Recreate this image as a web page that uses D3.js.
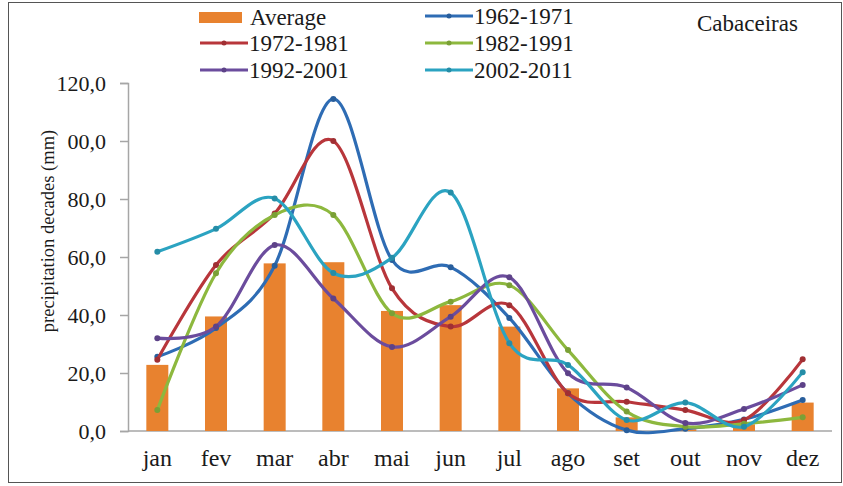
<!DOCTYPE html>
<html>
<head>
<meta charset="utf-8">
<script src="https://cdn.jsdelivr.net/npm/d3@7"></script>
<style>
  html, body { margin: 0; padding: 0; background: #fff; }
  svg { display: block; }
  text { font-family: "Liberation Serif", "Times New Roman", serif; fill: #1a1a1a; }
</style>
</head>
<body>
<svg id="chart" width="843" height="486"></svg>
<script>
// Monthly precipitation by decade, Cabaceiras
const months = ["jan", "fev", "mar", "abr", "mai", "jun", "jul", "ago", "set", "out", "nov", "dez"];
const average = [22.8, 39.5, 57.8, 58.2, 41.4, 43.4, 36.0, 14.7, 4.7, 0.6, 2.3, 9.8];
const d1962 = [25.6, 35.5, 57.0, 114.5, 59.0, 56.5, 39.0, 13.0, 0.3, 0.8, 4.0, 10.7];
const d1972 = [24.6, 57.2, 75.0, 100.0, 49.2, 36.0, 43.4, 13.0, 10.1, 7.2, 3.8, 24.7];
const d1982 = [7.2, 54.4, 74.5, 74.5, 40.6, 44.6, 50.3, 27.9, 6.7, 1.5, 2.5, 4.7];
const d1992 = [32.0, 36.0, 64.1, 45.7, 29.0, 39.4, 53.0, 19.9, 15.0, 2.8, 7.6, 15.9];
const d2002 = [61.8, 69.7, 80.2, 54.5, 59.7, 82.2, 30.3, 22.8, 3.8, 9.8, 1.5, 20.3];
const yTicks = [0, 20, 40, 60, 80, 100, 120];
const seriesNames = ["1962-1971", "1972-1981", "1982-1991", "1992-2001", "2002-2011"];
const seriesValues = [d1962, d1972, d1982, d1992, d2002];
const seriesColors = ["#2e6cb4", "#b8363b", "#8db83e", "#6b4c9d", "#2ba3c1"];
const barColor = "#e8822f";

const svg = d3.select("#chart");

// outer frame
svg.append("rect")
  .attr("x", 8.5).attr("y", 2.5).attr("width", 833).attr("height", 480)
  .attr("fill", "none").attr("stroke", "#555").attr("stroke-width", 1);

const x = d3.scaleBand().domain(months).range([128, 832])
  .paddingInner(0.625).paddingOuter(0.3125);
const cx = m => x(m) + x.bandwidth() / 2;
const y = d3.scaleLinear().domain([0, 120]).range([431, 83]);

// y axis
const yAxis = svg.append("g").attr("transform", "translate(128,0)")
  .call(d3.axisLeft(y).tickValues(yTicks).tickSize(8).tickPadding(14)
    .tickFormat(d => d3.format(".1f")(d).replace(".", ",")));
yAxis.select(".domain").attr("stroke", "#a6a6a6").attr("stroke-width", 1.5);
yAxis.selectAll(".tick line").attr("stroke", "#a6a6a6").attr("stroke-width", 1.5);
yAxis.selectAll(".tick text").attr("font-size", 22)
  .attr("font-family", "Liberation Serif").attr("fill", "#333");

// x axis baseline and month labels
const xAxis = svg.append("g").attr("transform", "translate(0,431)")
  .call(d3.axisBottom(x).tickSize(0).tickPadding(18).tickSizeOuter(0));
xAxis.select(".domain").attr("stroke", "#a6a6a6").attr("stroke-width", 1.5)
  .attr("d", "M128,0H832");
xAxis.selectAll(".tick text").attr("font-size", 24)
  .attr("font-family", "Liberation Serif").attr("fill", "#222");

// axis title, drawn over a white strip that overlaps the tick labels
svg.append("rect").attr("x", 34).attr("y", 122).attr("width", 33).attr("height", 218).attr("fill", "#fff");
svg.append("text")
  .attr("transform", "translate(54,231) rotate(-90)")
  .attr("text-anchor", "middle").attr("font-size", 18.5).attr("fill", "#222")
  .text("precipitation decades (mm)");

// average bars
svg.append("g").selectAll("rect").data(months).join("rect")
  .attr("x", d => x(d)).attr("width", x.bandwidth())
  .attr("y", (d, i) => y(average[i])).attr("height", (d, i) => y(0) - y(average[i]))
  .attr("fill", barColor);

// smoothed decade lines with markers
const line = d3.line().x((d, i) => cx(months[i])).y(d => y(d)).curve(d3.curveCardinal.tension(0));
seriesValues.forEach((vals, k) => {
  const g = svg.append("g");
  g.append("path").attr("d", line(vals)).attr("fill", "none")
    .attr("stroke", seriesColors[k]).attr("stroke-width", 3.2)
    .attr("stroke-linejoin", "round").attr("stroke-linecap", "round");
  g.selectAll("circle").data(vals).join("circle")
    .attr("cx", (d, i) => cx(months[i])).attr("cy", d => y(d)).attr("r", 3)
    .attr("fill", d3.color(seriesColors[k]).darker(0.4));
});

// legend
const leg = svg.append("g");
leg.append("rect").attr("x", 199).attr("y", 12).attr("width", 43).attr("height", 11).attr("fill", barColor);
leg.append("text").attr("x", 250).attr("y", 25).attr("font-size", 23).text("Average");
const legPos = [[425, 16], [200, 43], [425, 43], [200, 70], [425, 70]];
seriesNames.forEach((name, k) => {
  const [lx, ly] = legPos[k];
  leg.append("line").attr("x1", lx).attr("x2", lx + 48).attr("y1", ly).attr("y2", ly)
    .attr("stroke", seriesColors[k]).attr("stroke-width", 3.2);
  leg.append("circle").attr("cx", lx + 24).attr("cy", ly).attr("r", 2.5)
    .attr("fill", d3.color(seriesColors[k]).darker(0.4));
  leg.append("text").attr("x", lx + 49).attr("y", ly + 8).attr("font-size", 23).text(name);
});
svg.append("text").attr("x", 697).attr("y", 31).attr("font-size", 23).text("Cabaceiras");
</script>
</body>
</html>
